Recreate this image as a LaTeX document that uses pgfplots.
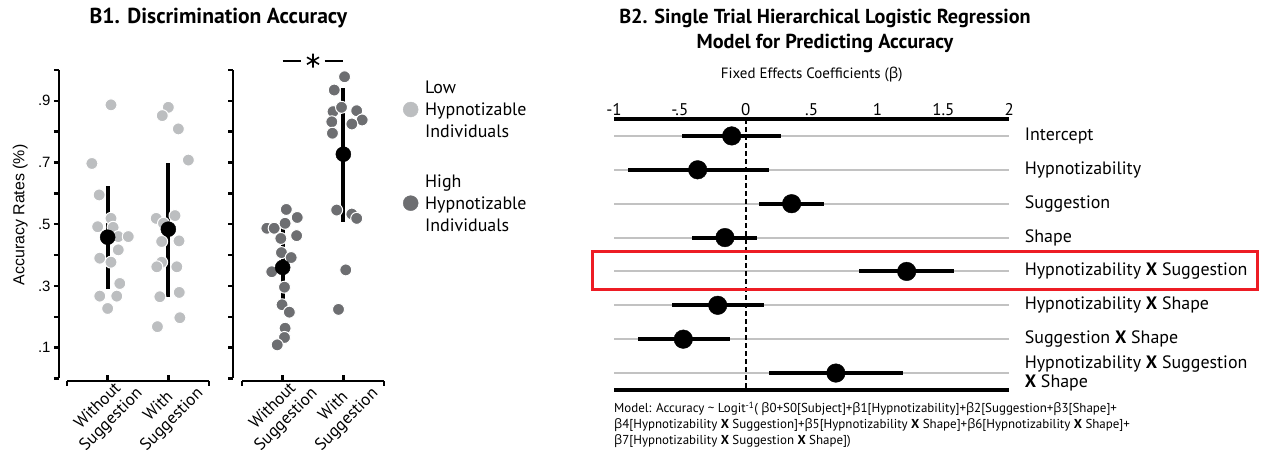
\documentclass[border=0pt]{standalone}
\usepackage{pgfplots}
\pgfplotsset{compat=1.18}
\usepackage{pgfplotstable}
\usepackage{fontspec}
\setmainfont{PT Sans}
\newfontfamily\arialf{Liberation Sans}
\newfontfamily\grk{Open Sans}
\definecolor{lowc}{HTML}{BCBEC0}
\definecolor{highc}{HTML}{6D6E71}
\definecolor{gridc}{HTML}{C2C2C2}
\definecolor{redc}{HTML}{ED1C24}
\newcommand{\fsz}[2]{\fontsize{#1}{#2}\selectfont}

% B1 low hypnotizable individuals (x = condition + jitter)
\pgfplotstableread{
x y
1.055 0.887
0.74 0.697
0.86 0.595
0.835 0.492
1.055 0.519
1.09 0.490
1.175 0.460
1.34 0.460
0.87 0.390
1.055 0.377
1.175 0.417
1.20 0.308
0.87 0.267
1.15 0.267
1.00 0.227
2.00 0.879
1.90 0.852
2.165 0.809
2.33 0.708
1.80 0.519
1.92 0.503
2.11 0.528
1.89 0.444
2.176 0.446
1.89 0.377
1.81 0.362
2.14 0.362
1.86 0.265
2.18 0.279
1.82 0.168
2.19 0.197
}\lowdots

% B1 high hypnotizable individuals
\pgfplotstableread{
x y
1.06 0.548
1.24 0.522
0.74 0.487
0.86 0.487
1.04 0.503
0.97 0.454
1.23 0.463
0.98 0.408
1.14 0.392
0.82 0.346
1.03 0.296
0.99 0.239
1.11 0.215
1.04 0.163
1.03 0.133
0.91 0.109
2.02 0.978
1.85 0.935
1.83 0.865
1.97 0.879
2.22 0.868
1.81 0.832
2.31 0.838
2.14 0.825
1.82 0.795
1.89 0.546
2.14 0.533
2.22 0.519
2.04 0.352
1.92 0.224
}\highdots

\pgfplotstableread{
x y lo hi
1 0.458 0.291 0.624
2 0.484 0.265 0.698
}\lowmeans

\pgfplotstableread{
x y lo hi
1 0.360 0.222 0.498
2 0.727 0.508 0.941
}\highmeans

% B2 fixed effects: row, estimate, CI low, CI high
\pgfplotstableread{
row est lo hi
1 -0.107 -0.482 0.267
2 -0.365 -0.896 0.179
3 0.348 0.103 0.596
4 -0.158 -0.408 0.082
5 1.221 0.861 1.582
6 -0.213 -0.560 0.138
7 -0.474 -0.820 -0.120
8 0.684 0.179 1.195
}\coefs

\pgfplotsset{
  bone/.style={
    scale only axis, width=142bp, height=308.5bp,
    xmin=0.33, xmax=2.67, ymin=0, ymax=1,
    axis x line=bottom, axis y line=left,
    axis line style={-, line width=2.5bp},
    axis x line shift=2.5bp, axis y line shift=8bp,
    tick align=outside, major tick length=5bp,
    tick style={line width=2.5bp, black},
    xtick={0.33,2.67}, xticklabels={,},
    extra x ticks={1,2},
    extra x tick labels={Without\\Suggestion, With\\Suggestion},
    extra x tick style={tick align=inside, major tick length=6bp,
      xticklabel style={rotate=45, anchor=40, align=center, font=\fsz{17}{19}}},
    ytick={0,0.1,0.2,0.3,0.4,0.5,0.6,0.7,0.8,0.9,1.0},
    yticklabel style={font=\arialf\fsz{15}{18}},
    clip=false,
  },
  dots/.style={only marks, mark=*, mark size=6bp, mark options={draw=white, line width=1bp}},
  means/.style={black, only marks, mark=*, mark size=7.5bp,
    error bars/y dir=both, error bars/y explicit, error bars/error mark=none,
    error bars/error bar style={line width=4bp, black}},
}

\begin{document}
\begin{tikzpicture}[x=1bp,y=1bp]
\path[use as bounding box] (0,0) rectangle (1261,450);

% ---------- B1 left panel ----------
\begin{axis}[bone, at={(67bp,71.5bp)}, anchor=south west,
  yticklabels={,.1,,.3,,.5,,.7,,.9,},
  ylabel={Accuracy Rates (\%)},
  ylabel style={at={(axis description cs:-0.33,0.53)}, anchor=center, font=\arialf\fsz{16}{18}},
]
\addplot[dots, fill=lowc] table[x=x,y=y] {\lowdots};
\addplot[means] table[x=x, y=y, y error plus expr=\thisrow{hi}-\thisrow{y}, y error minus expr=\thisrow{y}-\thisrow{lo}] {\lowmeans};
\end{axis}

% ---------- B1 right panel ----------
\begin{axis}[bone, at={(242bp,71.5bp)}, anchor=south west,
  axis y line shift=9bp,
  yticklabels={},
  legend style={at={(axis description cs:1,1)}, anchor=north west,
    xshift=16bp, yshift=-4bp, draw=none, fill=none, row sep=51bp,
    font=\fsz{18}{22}, /tikz/every odd column/.append style={column sep=5bp}},
  legend cell align=left,
  legend image post style={yshift=-12bp},
]
\addplot[dots, fill=highc, forget plot] table[x=x,y=y] {\highdots};
\addplot[forget plot, means] table[x=x, y=y, y error plus expr=\thisrow{hi}-\thisrow{y}, y error minus expr=\thisrow{y}-\thisrow{lo}] {\highmeans};
\addplot[black, line width=2bp, forget plot] coordinates {(1,1.03) (1.31,1.03)};
\addplot[black, line width=2bp, forget plot] coordinates {(1.69,1.03) (2,1.03)};
\addplot[black, only marks, mark=asterisk, mark size=7bp, mark options={line width=1.6bp}, forget plot] coordinates {(1.5,1.03)};
\addlegendimage{only marks, mark=*, mark size=7.5bp, lowc}
\addlegendentry{\begin{tabular}{@{}l@{}}Low\\Hypnotizable\\Individuals\end{tabular}}
\addlegendimage{only marks, mark=*, mark size=7.5bp, highc}
\addlegendentry{\begin{tabular}{@{}l@{}}High\\Hypnotizable\\Individuals\end{tabular}}
\end{axis}

\node[font=\bfseries\fsz{21.7}{24}] at (218.5,432) {B1. Discrimination Accuracy};

% ---------- B2 ----------
\begin{axis}[at={(614bp,60bp)}, anchor=south west,
  scale only axis, width=395.3bp, height=271bp,
  xmin=-1, xmax=2, ymin=0.5, ymax=8.5, y dir=reverse,
  separate axis lines,
  every outer x axis line/.append style={line width=4bp, black},
  every outer y axis line/.append style={draw=none},
  xtick={-1,-0.5,0,0.5,1,1.5,2},
  xticklabels={-1,-.5,0,.5,1,1.5,2},
  xticklabel pos=upper,
  xticklabel style={font=\fsz{17}{19}},
  major tick length=0pt,
  ytick={1,2,3,4,5,6,7,8},
  yticklabels={Intercept, Hypnotizability, Suggestion, Shape,
    Hypnotizability \textbf{X} Suggestion,
    Hypnotizability \textbf{X} Shape,
    Suggestion \textbf{X} Shape,
    {Hypnotizability \textbf{X} Suggestion\\\textbf{X} Shape}},
  yticklabel pos=right,
  yticklabel style={font=\fsz{18}{19}, align=left, anchor=west, xshift=12bp},
  ymajorgrids, grid style={gridc, line width=2bp},
  xlabel={Fixed Effects Coefficients ({\grk β})},
  xlabel style={at={(axis description cs:0.5,1)}, anchor=center, yshift=44bp, font=\fsz{15}{18}},
  clip=false,
]
\addplot[black, line width=2.5bp, dash pattern=on 5bp off 3bp] coordinates {(0,0.5) (0,8.5)};
\addplot[black, only marks, mark=*, mark size=9.3bp,
  error bars/x dir=both, error bars/x explicit, error bars/error mark=none,
  error bars/error bar style={line width=4bp, black}]
  table[x=est, y=row, x error plus expr=\thisrow{hi}-\thisrow{est}, x error minus expr=\thisrow{est}-\thisrow{lo}] {\coefs};
\end{axis}

\draw[redc, line width=3bp] (592,160) rectangle (1257.5,198);

\node[font=\bfseries\fsz{20.3}{25}, align=center] at (825,419.5)
  {B2. Single Trial Hierarchical Logistic Regression\\Model for Predicting Accuracy};

\node[font=\fsz{13}{16}, align=left, anchor=north west, inner sep=0pt] at (614,48)
  {Model: Accuracy \textasciitilde{} Logit\textsuperscript{-1}( {\grk β}0+S0[Subject]+{\grk β}1[Hypnotizability]+{\grk β}2[Suggestion+{\grk β}3[Shape]+\\
  {\grk β}4[Hypnotizability \textbf{X} Suggestion]+{\grk β}5[Hypnotizability \textbf{X} Shape]+{\grk β}6[Hypnotizability \textbf{X} Shape]+\\
  {\grk β}7[Hypnotizability \textbf{X} Suggestion \textbf{X} Shape])};
\end{tikzpicture}
\end{document}
